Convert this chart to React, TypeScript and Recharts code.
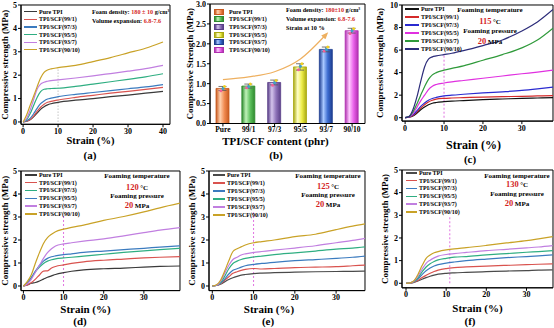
import type { ReactNode } from 'react'
import {
  LineChart,
  Line,
  ComposedChart,
  Bar,
  Cell,
  ErrorBar,
  Scatter,
  XAxis,
  YAxis,
  ReferenceArea,
  ReferenceLine,
  Legend,
} from 'recharts'

const FONT = '"Liberation Serif", "Times New Roman", serif'
const RED = '#d41f1f'

const grades = ['Pure TPI', 'TPI/SCF(99/1)', 'TPI/SCF(97/3)', 'TPI/SCF(95/5)', 'TPI/SCF(93/7)', 'TPI/SCF(90/10)']

// (a) foams at 180 kg/m3
const strainA = [0, 1, 2, 3, 4, 5, 6, 7, 8, 10, 15, 20, 25, 30, 35, 40]
const stressA = [
  [0, 0.03, 0.09, 0.22, 0.38, 0.54, 0.65, 0.73, 0.78, 0.84, 0.93, 1.0, 1.08, 1.15, 1.23, 1.31],
  [0, 0.03, 0.1, 0.25, 0.45, 0.63, 0.76, 0.84, 0.88, 0.94, 1.05, 1.14, 1.23, 1.31, 1.39, 1.48],
  [0, 0.05, 0.15, 0.35, 0.58, 0.78, 0.9, 0.98, 1.02, 1.08, 1.18, 1.26, 1.34, 1.42, 1.5, 1.6],
  [0, 0.1, 0.35, 0.7, 1.05, 1.3, 1.4, 1.42, 1.43, 1.44, 1.52, 1.62, 1.72, 1.82, 1.93, 2.06],
  [0, 0.15, 0.5, 0.95, 1.4, 1.62, 1.7, 1.74, 1.77, 1.8, 1.88, 1.97, 2.07, 2.17, 2.28, 2.42],
  [0, 0.3, 0.7, 1.1, 1.5, 1.88, 2.12, 2.22, 2.27, 2.32, 2.42, 2.58, 2.75, 2.95, 3.15, 3.42],
]
const colorsA = ['#3a3a3a', '#d9534f', '#3b7bbf', '#2fae82', '#c17fe0', '#c9a227']

// (b) strength at 10 % strain
const contents = ['Pure', '99/1', '97/3', '95/5', '93/7', '90/10']
const strength10 = [0.88, 0.94, 1.03, 1.42, 1.86, 2.33]
const strengthErr = [0.05, 0.05, 0.06, 0.08, 0.06, 0.06]
const rep1 = [0.82, 0.9, 0.96, 1.35, 1.82, 2.26]
const rep2 = [0.93, 0.99, 1.08, 1.5, 1.92, 2.38]
const rep3 = [0.88, 0.93, 1.02, 1.44, 1.86, 2.33]
const trend = [1.1, 1.17, 1.3, 1.62, 2.24, null]
// dark, light, base
const barShades = [
  ['#c85a20', '#ffd2b0', '#f08a50'],
  ['#2e8a2e', '#bff2b8', '#5cbf5c'],
  ['#5a3f88', '#d4c4ec', '#8e72b8'],
  ['#a8a810', '#ffffc8', '#ecec48'],
  ['#1e3e90', '#a8c8ff', '#3c6cd0'],
  ['#b030b0', '#ffcaff', '#ea62ea'],
]

// (c) 115 °C
const strainC = [0, 1, 2, 3, 4, 5, 6, 7, 8, 10, 12, 15, 20, 25, 30, 34, 38]
const stressC = [
  [0, 0.04, 0.15, 0.4, 0.7, 0.95, 1.15, 1.28, 1.35, 1.42, 1.47, 1.52, 1.6, 1.66, 1.72, 1.75, 1.78],
  [0, 0.05, 0.2, 0.5, 0.85, 1.15, 1.4, 1.55, 1.65, 1.72, 1.75, 1.78, 1.83, 1.87, 1.9, 1.93, 1.96],
  [0, 0.06, 0.25, 0.6, 1.0, 1.3, 1.55, 1.7, 1.8, 1.93, 2.0, 2.08, 2.2, 2.3, 2.42, 2.56, 2.72],
  [0, 0.08, 0.35, 0.9, 1.5, 2.0, 2.5, 2.8, 2.95, 3.08, 3.18, 3.3, 3.5, 3.7, 3.9, 4.05, 4.22],
  [0, 0.1, 0.5, 1.2, 2.0, 2.75, 3.4, 3.8, 4.0, 4.22, 4.38, 4.6, 5.1, 5.6, 6.2, 6.9, 7.95],
  [0, 0.1, 0.7, 1.8, 3.2, 4.5, 5.2, 5.4, 5.48, 5.6, 5.72, 5.95, 6.4, 6.9, 7.7, 8.5, 9.6],
]
const colorsC = ['#111111', '#d42a2a', '#2a2ad0', '#e030e0', '#2f9a3a', '#2c2c7a']

// (d) 120 °C
const strainD = [0, 1, 2, 3, 4, 5, 6, 7, 8, 10, 12, 15, 20, 25, 30, 34, 39]
const stressD = [
  [0, 0.05, 0.12, 0.15, 0.22, 0.3, 0.38, 0.44, 0.5, 0.58, 0.64, 0.7, 0.75, 0.78, 0.82, 0.85, 0.87],
  [0, 0.05, 0.15, 0.3, 0.48, 0.65, 0.66, 0.78, 0.85, 0.92, 0.98, 1.05, 1.12, 1.17, 1.22, 1.25, 1.28],
  [0, 0.15, 0.38, 0.62, 0.82, 0.98, 1.08, 1.14, 1.18, 1.22, 1.25, 1.3, 1.38, 1.46, 1.53, 1.58, 1.64],
  [0, 0.12, 0.35, 0.65, 0.9, 1.08, 1.2, 1.27, 1.31, 1.36, 1.4, 1.46, 1.52, 1.58, 1.64, 1.69, 1.75],
  [0, 0.1, 0.3, 0.6, 0.9, 1.2, 1.45, 1.62, 1.74, 1.83, 1.88, 1.95, 2.05, 2.18, 2.32, 2.43, 2.54],
  [0, 0.2, 0.5, 1.0, 1.45, 1.85, 2.1, 2.25, 2.36, 2.47, 2.55, 2.65, 2.85, 3.02, 3.22, 3.4, 3.6],
]
const colorsD = ['#3a3a3a', '#d9534f', '#2fae82', '#3b7bbf', '#c17fe0', '#c9a227']

// (e) 125 °C
const strainE = [0, 1, 2, 3, 4, 5, 6, 7, 8, 10, 12, 15, 20, 25, 30, 34, 37]
const stressE = [
  [0, 0.02, 0.08, 0.18, 0.28, 0.36, 0.42, 0.47, 0.5, 0.54, 0.56, 0.58, 0.6, 0.62, 0.63, 0.64, 0.65],
  [0, 0.02, 0.1, 0.25, 0.4, 0.55, 0.62, 0.68, 0.72, 0.76, 0.74, 0.76, 0.8, 0.82, 0.84, 0.88, 0.91],
  [0, 0.02, 0.12, 0.3, 0.52, 0.68, 0.75, 0.82, 0.88, 0.94, 0.98, 1.03, 1.1, 1.15, 1.2, 1.25, 1.3],
  [0, 0.03, 0.15, 0.42, 0.75, 0.98, 1.08, 1.15, 1.2, 1.26, 1.3, 1.36, 1.44, 1.52, 1.6, 1.65, 1.7],
  [0, 0.03, 0.2, 0.55, 0.9, 1.15, 1.25, 1.35, 1.4, 1.46, 1.5, 1.56, 1.65, 1.75, 1.88, 1.98, 2.07],
  [0, 0.05, 0.25, 0.65, 1.1, 1.5, 1.62, 1.7, 1.78, 1.88, 1.93, 2.0, 2.15, 2.25, 2.45, 2.6, 2.7],
]
const colorsE = ['#4a4a4a', '#d9534f', '#3b7bbf', '#2fae82', '#c17fe0', '#c9a227']

// (f) 130 °C
const strainF = [0, 1, 2, 3, 4, 5, 6, 7, 8, 10, 12, 15, 20, 25, 30, 33, 36.5]
const stressF = [
  [0, 0.01, 0.04, 0.1, 0.18, 0.25, 0.31, 0.36, 0.4, 0.44, 0.46, 0.48, 0.51, 0.54, 0.56, 0.58, 0.59],
  [0, 0.01, 0.05, 0.13, 0.25, 0.35, 0.44, 0.52, 0.58, 0.65, 0.69, 0.72, 0.76, 0.79, 0.82, 0.84, 0.86],
  [0, 0.02, 0.07, 0.2, 0.38, 0.55, 0.67, 0.76, 0.82, 0.89, 0.94, 1.0, 1.07, 1.13, 1.18, 1.21, 1.25],
  [0, 0.02, 0.08, 0.25, 0.5, 0.72, 0.86, 0.96, 1.03, 1.1, 1.15, 1.18, 1.25, 1.31, 1.37, 1.4, 1.44],
  [0, 0.02, 0.1, 0.32, 0.62, 0.88, 1.02, 1.12, 1.2, 1.27, 1.31, 1.36, 1.44, 1.5, 1.56, 1.6, 1.66],
  [0, 0.02, 0.12, 0.4, 0.78, 1.1, 1.25, 1.35, 1.4, 1.47, 1.52, 1.57, 1.67, 1.78, 1.88, 1.96, 2.06],
]
const colorsF = ['#4a4a4a', '#d9534f', '#3b7bbf', '#2fae82', '#c17fe0', '#c9a227']

const tickFont = { fill: '#000', fontSize: 8, fontFamily: FONT, fontWeight: 700 }
const axisProps = {
  tick: tickFont,
  tickSize: 3,
  tickMargin: 1,
  axisLine: { stroke: '#000' },
  tickLine: { stroke: '#000' },
}
const titleStyle = { fontFamily: FONT, fontWeight: 700 }

const xTitle = (text: string, dy: number, shift: number, size: number) => (props: any) => {
  const vb = props.viewBox ?? {}
  return (
    <text x={vb.x + vb.width / 2 + shift} y={vb.y + dy} textAnchor='middle' fill='#000' style={{ ...titleStyle, fontSize: size }}>
      {text}
    </text>
  )
}

const yTitle = (text: string, dx: number, size: number) => (props: any) => {
  const vb = props.viewBox ?? {}
  const cx = vb.x + dx
  const cy = vb.y + vb.height / 2
  return (
    <text
      x={cx}
      y={cy}
      transform={`rotate(-90 ${cx} ${cy})`}
      textAnchor='middle'
      dominantBaseline='central'
      fill='#000'
      style={{ ...titleStyle, fontSize: size }}
    >
      {text}
    </text>
  )
}

const legendText = { fontFamily: FONT, fontWeight: 700, fontSize: 6, lineHeight: 1, color: '#000' }

// keep the legend in series order rather than alphabetical
const lineLegend = (row: number, len: number) => ({ payload }: any) => {
  const items = [...(payload ?? [])].sort((a: any, b: any) => grades.indexOf(a.value) - grades.indexOf(b.value))
  return (
    <div style={legendText}>
      {items.map((item: any) => (
        <div key={item.value} style={{ display: 'flex', alignItems: 'center', height: row, whiteSpace: 'nowrap' }}>
          <span style={{ display: 'inline-block', width: len, height: 1.3, background: item.color, marginRight: 2 }} />
          {item.value}
        </div>
      ))}
    </div>
  )
}

type Box = { l: number; r: number; t: number; b: number }

type StrainProps = {
  strain: number[]
  stress: number[][]
  colors: string[]
  box: Box
  yw: number
  xh: number
  xDomain: [number, number]
  xTicks: number[]
  yDomain: [number, number]
  yTicks: number[]
  guide: { x: number; top: number; color: string; dash: string }
  legend: { x: number; y: number; row: number; line: number }
  yTitleDx: number
  xTitleDy: number
  xTitleShift: number
  xTitleSize: number
}

function StrainPanel(p: StrainProps) {
  const MT = 5
  const MR = 1
  const left = p.box.l - p.yw
  const top = p.box.t - MT
  const data = p.strain.map((s, i) => {
    const row: Record<string, number> = { strain: s }
    p.stress.forEach((v, k) => {
      row['s' + k] = v[i]
    })
    return row
  })

  return (
    <div style={{ position: 'absolute', left, top }}>
      <LineChart
        width={p.box.r - p.box.l + p.yw + MR}
        height={p.box.b - p.box.t + MT + p.xh}
        data={data}
        margin={{ top: MT, right: MR, bottom: 0, left: 0 }}
      >
        <XAxis
          type='number'
          dataKey='strain'
          domain={p.xDomain}
          ticks={p.xTicks}
          height={p.xh}
          allowDataOverflow
          {...axisProps}
          label={xTitle('Strain (%)', p.xTitleDy, p.xTitleShift, p.xTitleSize)}
        />
        <YAxis
          type='number'
          domain={p.yDomain}
          ticks={p.yTicks}
          width={p.yw}
          allowDataOverflow
          {...axisProps}
          label={yTitle('Compressive strength (MPa)', p.yTitleDx, 9)}
        />
        <ReferenceArea x1={p.xDomain[0]} x2={p.xDomain[1]} y1={p.yDomain[0]} y2={p.yDomain[1]} fill='none' stroke='#000' />
        <ReferenceLine
          segment={[
            { x: p.guide.x, y: 0 },
            { x: p.guide.x, y: p.guide.top },
          ]}
          stroke={p.guide.color}
          strokeDasharray={p.guide.dash}
        />
        {p.stress.map((_, k) => (
          <Line
            key={k}
            type='monotone'
            dataKey={'s' + k}
            name={grades[k]}
            stroke={p.colors[k]}
            strokeWidth={1.2}
            dot={false}
            isAnimationActive={false}
          />
        ))}
        <Legend
          layout='vertical'
          align='center'
          verticalAlign='middle'
          wrapperStyle={{ left: p.legend.x - left, top: p.legend.y - top, width: 'auto', height: 'auto' }}
          content={lineLegend(p.legend.row, p.legend.line)}
        />
      </LineChart>
    </div>
  )
}

const dot = (fill: string, dx: number) => (props: any) => <circle cx={props.cx + dx} cy={props.cy} r={1.5} fill={fill} />

function BarPanel() {
  const box = { l: 210, r: 365, t: 4, b: 123.5 }
  const YW = 25
  const MT = 4
  const MR = 3
  const XH = 24
  const left = box.l - YW
  const top = box.t - MT
  const data = contents.map((name, i) => ({
    name,
    strength: strength10[i],
    err: strengthErr[i],
    r1: rep1[i],
    r2: rep2[i],
    r3: rep3[i],
    trend: trend[i],
  }))

  return (
    <div style={{ position: 'absolute', left, top }}>
      <ComposedChart
        width={box.r - box.l + YW + MR}
        height={box.b - box.t + MT + XH}
        data={data}
        margin={{ top: MT, right: MR, bottom: 0, left: 0 }}
      >
        <defs>
          {barShades.map(([dark, light, base], i) => (
            <linearGradient key={i} id={`barShade${i}`} x1='0' x2='1' y1='0' y2='0'>
              <stop offset='0%' stopColor={dark} />
              <stop offset='32%' stopColor={light} />
              <stop offset='65%' stopColor={base} />
              <stop offset='100%' stopColor={dark} />
            </linearGradient>
          ))}
          <marker id='trendArrow' viewBox='0 0 10 10' refX='6' refY='5' markerWidth='6' markerHeight='6' orient='auto'>
            <path d='M0,1 L10,5 L0,9 z' fill='#eeb060' />
          </marker>
        </defs>
        <XAxis
          dataKey='name'
          height={XH}
          {...axisProps}
          tickMargin={0}
          tick={{ ...tickFont, fontSize: 7.5 }}
          label={xTitle('TPI/SCF content (phr)', 21.5, -12, 11)}
        />
        <YAxis
          type='number'
          domain={[0, 3]}
          ticks={[0, 0.5, 1, 1.5, 2, 2.5, 3]}
          tickFormatter={(v: number) => v.toFixed(1)}
          width={YW}
          {...axisProps}
          label={yTitle('Compressive Strength (MPa)', 5, 9)}
        />
        <ReferenceArea x1='Pure' x2='90/10' y1={0} y2={3} fill='none' stroke='#000' />
        <Bar dataKey='strength' barSize={13} isAnimationActive={false}>
          {data.map((d, i) => (
            <Cell key={d.name} fill={`url(#barShade${i})`} stroke={barShades[i][0]} strokeWidth={0.8} />
          ))}
          <ErrorBar dataKey='err' width={4} stroke='#555' strokeWidth={0.8} />
        </Bar>
        <Scatter dataKey='r1' shape={dot('#f0609a', -2)} isAnimationActive={false} />
        <Scatter dataKey='r2' shape={dot('#f2d020', 1.5)} isAnimationActive={false} />
        <Scatter dataKey='r3' shape={dot('#3fa2c8', 0)} isAnimationActive={false} />
        <Line
          type='monotone'
          dataKey='trend'
          stroke='#eeb060'
          strokeWidth={1.2}
          dot={false}
          markerEnd='url(#trendArrow)'
          isAnimationActive={false}
        />
        <Legend
          layout='vertical'
          align='center'
          verticalAlign='middle'
          wrapperStyle={{ left: 214 - left, top: 8 - top, width: 'auto', height: 'auto' }}
          content={() => (
            <div style={legendText}>
              {grades.map((g, i) => (
                <div key={g} style={{ display: 'flex', alignItems: 'center', height: 7.6, whiteSpace: 'nowrap' }}>
                  <span
                    style={{
                      display: 'inline-block',
                      width: 10,
                      height: 6,
                      marginRight: 5,
                      boxSizing: 'border-box',
                      border: `0.6px solid ${barShades[i][0]}`,
                      background: `linear-gradient(90deg, ${barShades[i][0]}, ${barShades[i][1]} 35%, ${barShades[i][2]} 70%, ${barShades[i][0]})`,
                    }}
                  />
                  {g}
                </div>
              ))}
            </div>
          )}
        />
      </ComposedChart>
    </div>
  )
}

function Caption({ x, y, size = 11, children }: { x: number; y: number; size?: number; children: ReactNode }) {
  return (
    <div
      style={{
        position: 'absolute',
        left: x,
        top: y,
        transform: 'translate(-50%, -50%)',
        whiteSpace: 'nowrap',
        lineHeight: 1,
        fontFamily: FONT,
        fontWeight: 700,
        fontSize: size,
        color: '#000',
      }}
    >
      {children}
    </div>
  )
}

function NoteRow({ x, y, children, center = false }: { x: number; y: number; children: ReactNode; center?: boolean }) {
  return (
    <div
      style={{
        position: 'absolute',
        left: x,
        top: y,
        transform: center ? 'translate(-50%, -50%)' : 'translateY(-50%)',
        whiteSpace: 'nowrap',
        lineHeight: 1,
        fontFamily: FONT,
        fontWeight: 700,
        fontSize: 6.2,
        color: '#000',
      }}
    >
      {children}
    </div>
  )
}

function FoamingNote({ cx, rows, temp }: { cx: number; rows: number[]; temp: number }) {
  const big = { color: RED, fontSize: 8.5 }
  return (
    <>
      <NoteRow x={cx} y={rows[0]} center>
        <span style={{ fontSize: 7 }}>Foaming temperature</span>
      </NoteRow>
      <NoteRow x={cx} y={rows[1]} center>
        <span style={big}>{temp}</span> <span style={{ fontSize: 7 }}>°C</span>
      </NoteRow>
      <NoteRow x={cx} y={rows[2]} center>
        <span style={{ fontSize: 7 }}>Foaming pressure</span>
      </NoteRow>
      <NoteRow x={cx} y={rows[3]} center>
        <span style={big}>20</span> <span style={{ fontSize: 7 }}>MPa</span>
      </NoteRow>
    </>
  )
}

const yTicks5 = [0, 1, 2, 3, 4, 5]
const xTicks30 = [0, 10, 20, 30]

export default function App() {
  return (
    <div
      style={{
        position: 'absolute',
        left: 0,
        top: 0,
        width: 554,
        height: 328,
        background: '#fff',
        overflow: 'hidden',
        fontFamily: FONT,
      }}
    >
      <StrainPanel
        strain={strainA}
        stress={stressA}
        colors={colorsA}
        box={{ l: 21, r: 170, t: 5, b: 124.3 }}
        yw={21}
        xh={24}
        xDomain={[-0.6, 42]}
        xTicks={[0, 10, 20, 30, 40]}
        yDomain={[-0.1, 5]}
        yTicks={yTicks5}
        guide={{ x: 10, top: 2.3, color: '#c4c4c4', dash: '1.5 1.5' }}
        legend={{ x: 24, y: 8, row: 7.6, line: 13 }}
        yTitleDx={5}
        xTitleDy={20}
        xTitleShift={-5}
        xTitleSize={10.5}
      />
      <NoteRow x={92} y={12}>
        Foam density: <span style={{ color: RED }}>180 ± 10</span> g/cm³
      </NoteRow>
      <NoteRow x={92} y={21}>
        Volume expansion: <span style={{ color: RED }}>6.8-7.6</span>
      </NoteRow>
      <Caption x={90} y={155}>(a)</Caption>

      <BarPanel />
      <NoteRow x={286} y={10}>
        Foam density: <span style={{ color: RED }}>180±10</span> g/cm³
      </NoteRow>
      <NoteRow x={286} y={19}>
        Volume expansion: <span style={{ color: RED }}>6.8-7.6</span>
      </NoteRow>
      <NoteRow x={286} y={28}>
        Strain at 10 %
      </NoteRow>
      <Caption x={276} y={155}>(b)</Caption>

      <StrainPanel
        strain={strainC}
        stress={stressC}
        colors={colorsC}
        box={{ l: 402, r: 553, t: 5, b: 121.1 }}
        yw={30}
        xh={31}
        xDomain={[-0.8, 38]}
        xTicks={xTicks30}
        yDomain={[-0.3, 10]}
        yTicks={[0, 2, 4, 6, 8, 10]}
        guide={{ x: 10, top: 5.7, color: '#e070e0', dash: '2 2' }}
        legend={{ x: 405, y: 5, row: 8, line: 14 }}
        yTitleDx={8}
        xTitleDy={28}
        xTitleShift={-4}
        xTitleSize={12}
      />
      <FoamingNote cx={490} rows={[10, 20.7, 30.7, 40.7]} temp={115} />
      <Caption x={470} y={159}>(c)</Caption>

      <StrainPanel
        strain={strainD}
        stress={stressD}
        colors={colorsD}
        box={{ l: 21, r: 180, t: 171, b: 290.6 }}
        yw={21}
        xh={26}
        xDomain={[-0.6, 39]}
        xTicks={xTicks30}
        yDomain={[-0.2, 5]}
        yTicks={yTicks5}
        guide={{ x: 10, top: 3.05, color: '#e070e0', dash: '2 2' }}
        legend={{ x: 25, y: 171, row: 7.8, line: 12 }}
        yTitleDx={5}
        xTitleDy={22}
        xTitleShift={-15}
        xTitleSize={11}
      />
      <FoamingNote cx={137} rows={[176, 187, 196, 205]} temp={120} />
      <Caption x={80} y={321}>(d)</Caption>

      <StrainPanel
        strain={strainE}
        stress={stressE}
        colors={colorsE}
        box={{ l: 209, r: 365, t: 171, b: 290.6 }}
        yw={24}
        xh={26}
        xDomain={[-0.8, 37]}
        xTicks={xTicks30}
        yDomain={[-0.2, 5]}
        yTicks={yTicks5}
        guide={{ x: 10, top: 3.2, color: '#e070e0', dash: '2 2' }}
        legend={{ x: 213, y: 171, row: 8, line: 12 }}
        yTitleDx={7}
        xTitleDy={22}
        xTitleShift={-18}
        xTitleSize={11}
      />
      <FoamingNote cx={328} rows={[176, 186, 195, 204]} temp={125} />
      <Caption x={268} y={321}>(e)</Caption>

      <StrainPanel
        strain={strainF}
        stress={stressF}
        colors={colorsF}
        box={{ l: 402, r: 553, t: 170, b: 287.8 }}
        yw={30}
        xh={28}
        xDomain={[-1, 36.6]}
        xTicks={xTicks30}
        yDomain={[-0.2, 5]}
        yTicks={yTicks5}
        guide={{ x: 10.9, top: 2.95, color: '#e070e0', dash: '2 2' }}
        legend={{ x: 406, y: 169, row: 7.8, line: 11 }}
        yTitleDx={13}
        xTitleDy={24}
        xTitleShift={0}
        xTitleSize={11}
      />
      <FoamingNote cx={517} rows={[176, 184.3, 194.3, 203.3]} temp={130} />
      <Caption x={470} y={320.5}>(f)</Caption>
    </div>
  )
}
